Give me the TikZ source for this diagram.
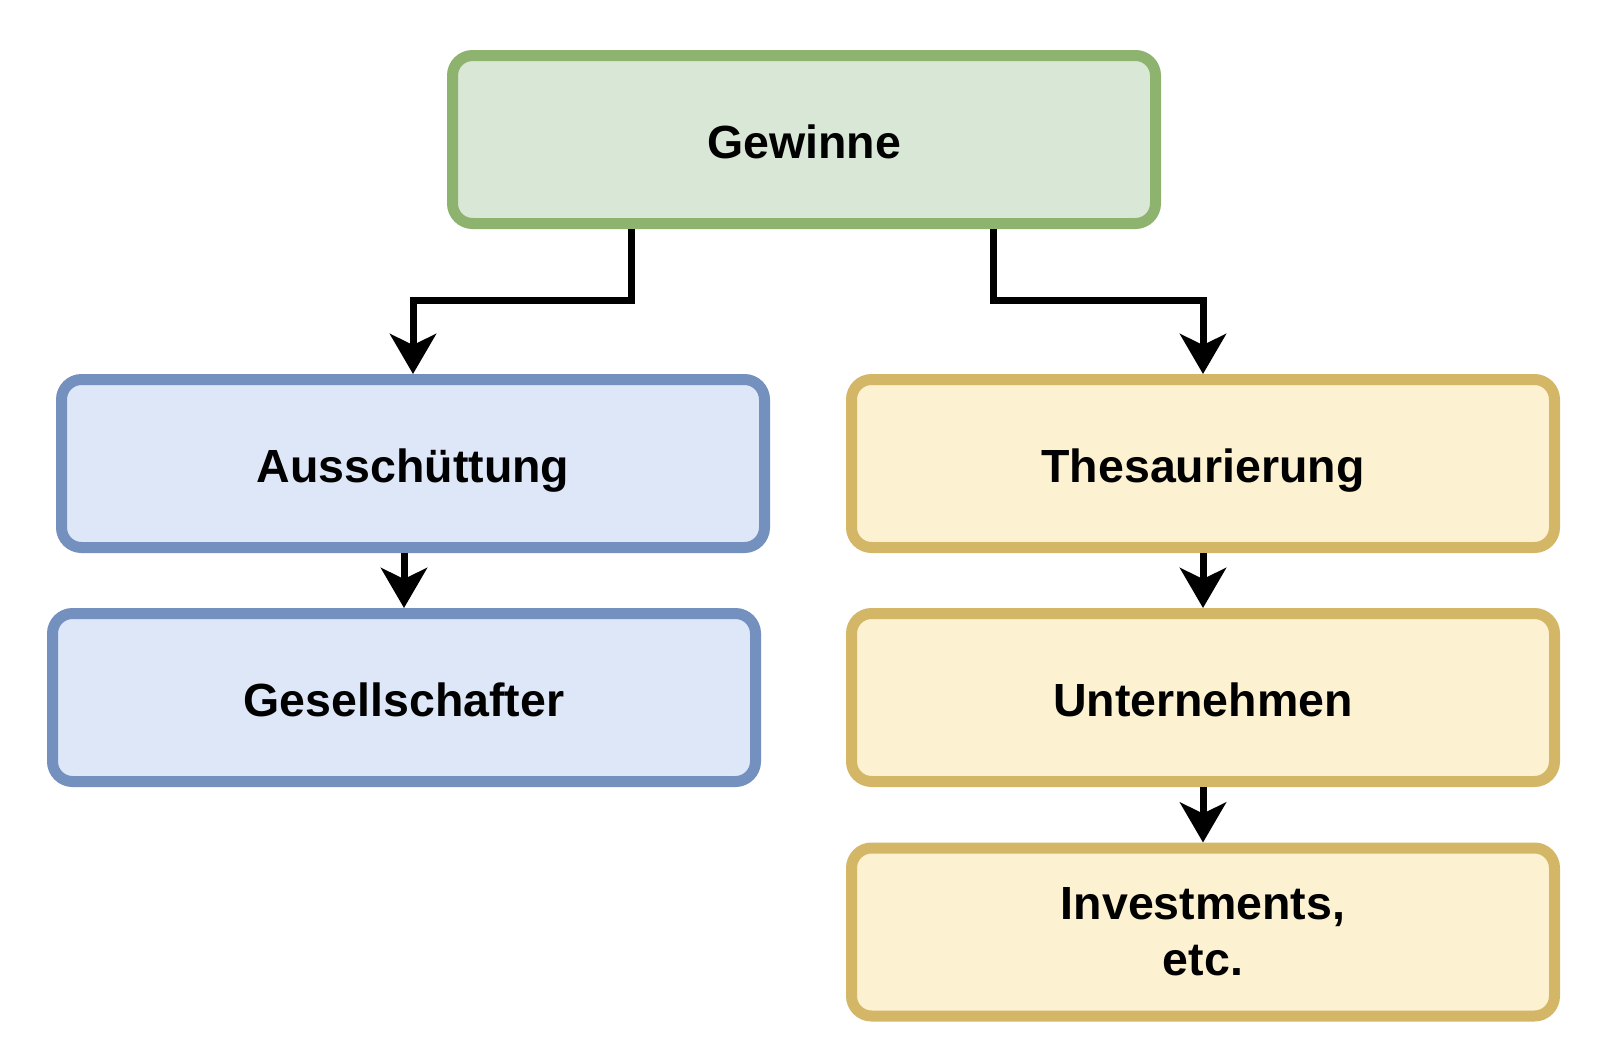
\documentclass[tikz,border=0pt]{standalone}
\usepackage{fontspec}
\setmainfont{Liberation Sans}
\usetikzlibrary{arrows.meta}
\definecolor{gstroke}{HTML}{8DB36F}
\definecolor{gfill}{HTML}{D9E7D6}
\definecolor{bstroke}{HTML}{7390BE}
\definecolor{bfill}{HTML}{DDE7F8}
\definecolor{ystroke}{HTML}{D3B767}
\definecolor{yfill}{HTML}{FCF1D0}
\tikzset{
  boxbase/.style={rectangle, rounded corners=20pt, line width=11pt, minimum width=703pt, minimum height=168pt, inner sep=0pt, align=center, font=\fontsize{46.5}{56}\selectfont\bfseries},
  oneline/.style={text height=46pt, text depth=8pt},
  greenbox/.style={boxbase, draw=gstroke, fill=gfill},
  bluebox/.style={boxbase, draw=bstroke, fill=bfill},
  yellowbox/.style={boxbase, draw=ystroke, fill=yfill},
  conn/.style={line width=7pt, draw=black, -{Stealth[length=40pt,width=46pt,inset=11pt]}}
}
\begin{document}
\begin{tikzpicture}[x=1pt,y=-1pt]
\useasboundingbox (0,0) rectangle (1614,1044);
\node[greenbox, oneline] (gew) at (804,139.5) {Gewinne};
\node[bluebox, oneline] (aus) at (413,463.5) {Ausschüttung};
\node[bluebox, oneline] (ges) at (404,697.5) {Gesellschafter};
\node[yellowbox, oneline] (thes) at (1203,463.5) {Thesaurierung};
\node[yellowbox, oneline] (unt) at (1203,697.5) {Unternehmen};
\node[yellowbox] (inv) at (1203,932) {Investments,\\etc.};
\coordinate (lbend) at (631,300);
\coordinate (rbend) at (993,300);
\draw[conn] ([xshift=-173pt]gew.south) -- (lbend) -- (lbend -| aus.north) -- (aus.north);
\draw[conn] ([xshift=189pt]gew.south) -- (rbend) -- (rbend -| thes.north) -- (thes.north);
\draw[conn] (ges.north |- aus.south) -- (ges.north);
\draw[conn] (thes.south) -- (unt.north);
\draw[conn] (unt.south) -- (inv.north);
\end{tikzpicture}
\end{document}
